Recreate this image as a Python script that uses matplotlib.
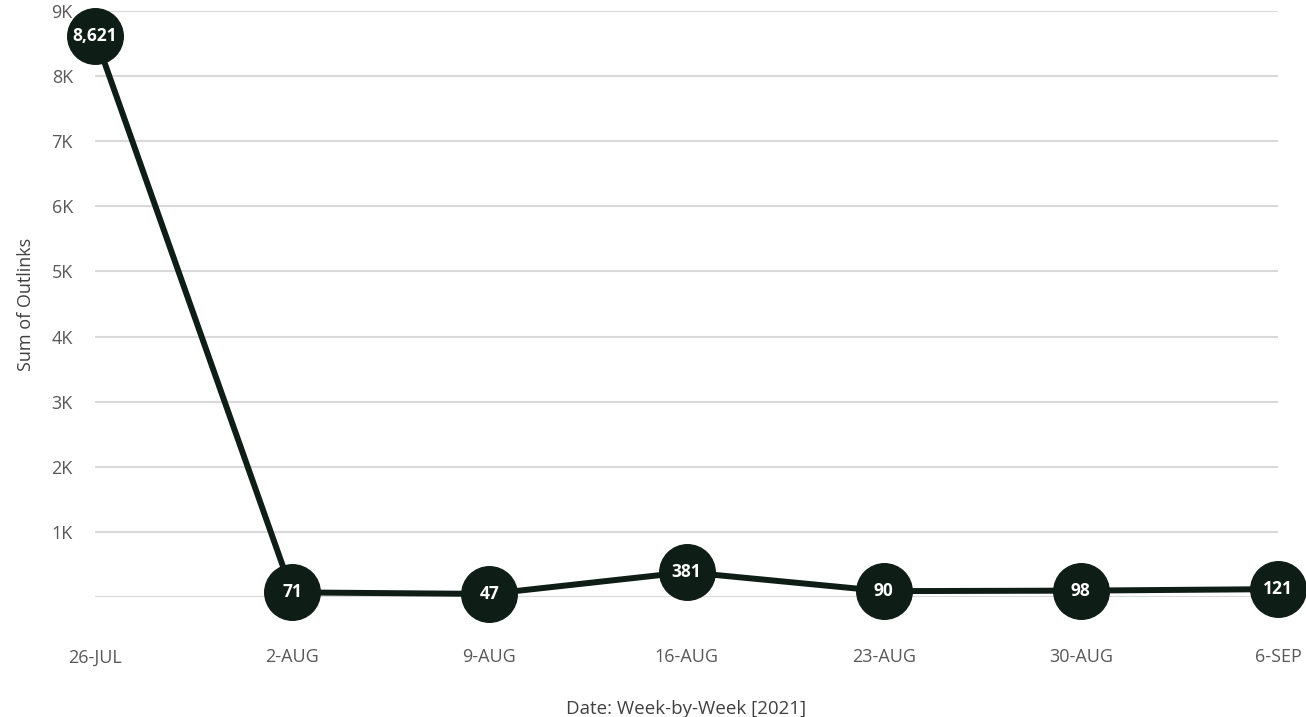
import matplotlib.pyplot as plt
from matplotlib.ticker import FuncFormatter

weeks = ["26-JUL", "2-AUG", "9-AUG", "16-AUG", "23-AUG", "30-AUG", "6-SEP"]
outlinks = [8621, 71, 47, 381, 90, 98, 121]

line_color = "#0e1e17"
text_color = "#595959"
grid_color = "#d9d9d9"

plt.rcParams['font.family'] = ['Open Sans', 'DejaVu Sans']

fig = plt.figure(figsize=(13.06, 7.17), dpi=100)
ax = fig.add_axes([95 / 1306, 1 - 597 / 717, (1278 - 95) / 1306, (597 - 11) / 717])

x = list(range(len(weeks)))
ax.plot(x, outlinks, color=line_color, linewidth=4.3, marker="o", markersize=40,
        markerfacecolor=line_color, markeredgecolor=line_color, zorder=3, clip_on=False)

for xi, v in zip(x, outlinks):
    ax.text(xi, v, "{:,}".format(v), color="white", fontsize=12.5, fontweight="bold",
            ha="center", va="center", zorder=4)

ax.set_xlim(0, len(weeks) - 1)
ax.set_ylim(0, 9000)
ax.set_xticks(x)
ax.set_xticklabels(weeks)
ax.set_yticks(range(0, 10000, 1000))
ax.yaxis.set_major_formatter(FuncFormatter(lambda v, p: "" if v == 0 else "{:d}K".format(int(v // 1000))))

ax.grid(axis="y", color=grid_color, linewidth=1.5)
ax.set_axisbelow(True)
for s in ax.spines.values():
    s.set_visible(False)
ax.tick_params(axis="both", length=0, colors=text_color, labelsize=13)
ax.tick_params(axis="x", pad=37)
ax.tick_params(axis="y", pad=16)

ax.set_xlabel("Date: Week-by-Week [2021]", fontsize=13.5, color="#404040", labelpad=24)
ax.set_ylabel("Sum of Outlinks", fontsize=13, color="#404040", labelpad=12)

plt.savefig("out.png", dpi=100)
